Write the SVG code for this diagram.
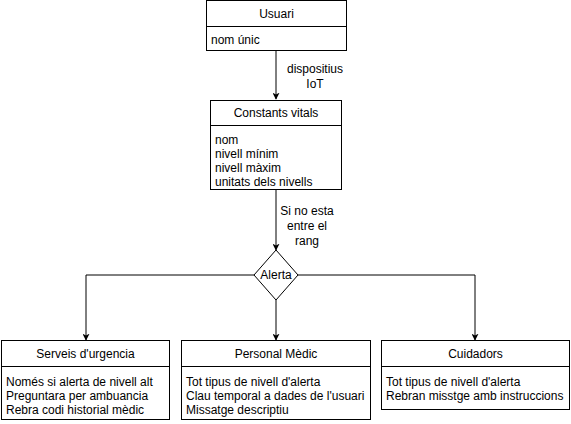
<svg xmlns="http://www.w3.org/2000/svg" width="571" height="424" viewBox="0 0 571 424">
<defs>
<style>
.box{fill:#fff;stroke:#000;stroke-width:1}
.ln{fill:none;stroke:#000;stroke-width:1}
.t{font-family:"Liberation Sans",Arial,sans-serif;font-size:12px;fill:#000}
.c{text-anchor:middle}
</style>
<marker id="arr" viewBox="0 0 10 10" refX="9" refY="5" markerWidth="7" markerHeight="7" markerUnits="userSpaceOnUse" orient="auto">
<path d="M0,0 L10,5 L0,10 L2.5,5 Z" fill="#000"/>
</marker>
</defs>
<rect width="571" height="424" fill="#fff"/>
<g id="connectors">
<path class="ln" d="M276,50 V99" marker-end="url(#arr)"/>
<text class="t c" x="315" y="73">dispositius</text>
<text class="t c" x="315" y="88">IoT</text>
<path class="ln" d="M276,190 V250" marker-end="url(#arr)"/>
<text class="t c" x="307" y="215">Si no esta</text>
<text class="t c" x="307" y="230">entre el</text>
<text class="t c" x="307" y="245">rang</text>
<path class="ln" d="M254,275 H86 V340" marker-end="url(#arr)"/>
<path class="ln" d="M276,300 V340" marker-end="url(#arr)"/>
<path class="ln" d="M298,275 H475 V340" marker-end="url(#arr)"/>
</g>
<g id="usuari">
<rect class="box" x="206.5" y="0.5" width="140" height="50"/>
<line class="ln" x1="206.5" y1="26.5" x2="346.5" y2="26.5"/>
<text class="t c" x="276.5" y="18">Usuari</text>
<text class="t" x="211" y="44">nom únic</text>
</g>
<g id="constants">
<rect class="box" x="210.5" y="100.5" width="131" height="89"/>
<line class="ln" x1="210.5" y1="125.5" x2="341.5" y2="125.5"/>
<text class="t c" x="276" y="117">Constants vitals</text>
<text class="t" x="215" y="144">nom</text>
<text class="t" x="215" y="158">nivell mínim</text>
<text class="t" x="215" y="172">nivell màxim</text>
<text class="t" x="215" y="186">unitats dels nivells</text>
</g>
<g id="alerta">
<polygon class="box" points="276,250 298,275 276,300 254,275"/>
<text class="t c" x="276" y="279">Alerta</text>
</g>
<g id="serveis">
<rect class="box" x="1.5" y="340.5" width="168" height="79"/>
<line class="ln" x1="1.5" y1="366.5" x2="169.5" y2="366.5"/>
<text class="t c" x="85.5" y="358">Serveis d'urgencia</text>
<text class="t" x="6" y="386">Només si alerta de nivell alt</text>
<text class="t" x="6" y="400">Preguntara per ambuancia</text>
<text class="t" x="6" y="414">Rebra codi historial mèdic</text>
</g>
<g id="personal">
<rect class="box" x="181.5" y="340.5" width="189" height="79"/>
<line class="ln" x1="181.5" y1="366.5" x2="370.5" y2="366.5"/>
<text class="t c" x="276" y="358">Personal Mèdic</text>
<text class="t" x="186" y="386">Tot tipus de nivell d'alerta</text>
<text class="t" x="186" y="400">Clau temporal a dades de l'usuari</text>
<text class="t" x="186" y="414">Missatge descriptiu</text>
</g>
<g id="cuidadors">
<rect class="box" x="381.5" y="340.5" width="188" height="69"/>
<line class="ln" x1="381.5" y1="366.5" x2="569.5" y2="366.5"/>
<text class="t c" x="475.5" y="358">Cuidadors</text>
<text class="t" x="386" y="386">Tot tipus de nivell d'alerta</text>
<text class="t" x="386" y="400">Rebran misstge amb instruccions</text>
</g>
</svg>
